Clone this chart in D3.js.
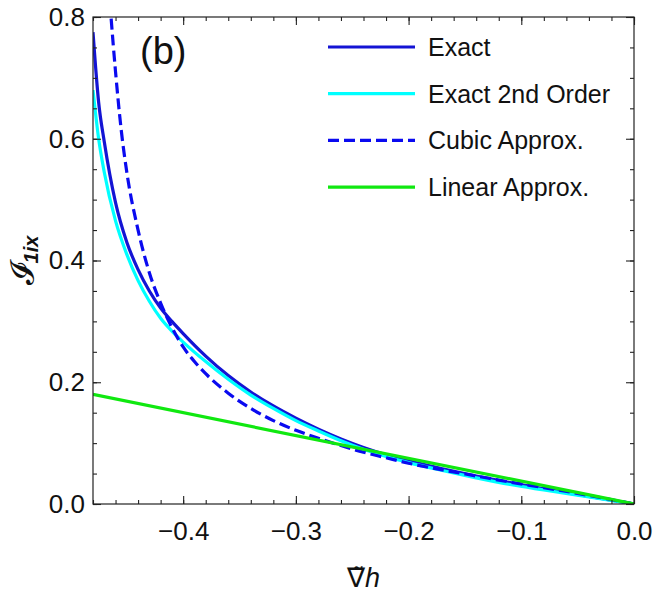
<!DOCTYPE html>
<html>
<head>
<meta charset="utf-8">
<script src="https://cdn.jsdelivr.net/npm/d3@7"></script>
<style>
  body { margin: 0; background: #fff; }
  svg text { font-family: "Liberation Sans", Arial, sans-serif; fill: #111; }
</style>
</head>
<body>
<div id="chart"></div>
<script>
// values
const exactX = [-0.48, -0.475, -0.47, -0.46, -0.45, -0.44, -0.43, -0.42, -0.41, -0.40, -0.38, -0.36, -0.34, -0.32, -0.30, -0.28, -0.26, -0.24, -0.22, -0.20, -0.17, -0.14, -0.11, -0.08, -0.04, 0];
const exactY = [0.775, 0.66, 0.595, 0.495, 0.43, 0.385, 0.35, 0.322, 0.300, 0.280, 0.243, 0.211, 0.184, 0.161, 0.141, 0.123, 0.107, 0.093, 0.081, 0.071, 0.058, 0.046, 0.035, 0.025, 0.0125, 0];

const secondX = [-0.48, -0.475, -0.47, -0.46, -0.45, -0.44, -0.43, -0.42, -0.41, -0.40, -0.38, -0.36, -0.34, -0.32, -0.30, -0.28, -0.26, -0.24, -0.22, -0.20, -0.17, -0.14, -0.11, -0.08, -0.04, 0];
const secondY = [0.68, 0.60, 0.545, 0.465, 0.41, 0.367, 0.333, 0.305, 0.284, 0.266, 0.234, 0.205, 0.179, 0.157, 0.137, 0.120, 0.104, 0.090, 0.078, 0.068, 0.055, 0.043, 0.032, 0.023, 0.0115, 0];

const cubicX = [-0.466, -0.464, -0.46, -0.455, -0.45, -0.44, -0.43, -0.42, -0.41, -0.40, -0.39, -0.38, -0.36, -0.34, -0.32, -0.30, -0.28, -0.26, -0.24, -0.22, -0.20, -0.17, -0.14, -0.11, -0.08, -0.04, 0];
const cubicY = [0.85, 0.80, 0.71, 0.615, 0.545, 0.45, 0.38, 0.33, 0.29, 0.258, 0.234, 0.214, 0.182, 0.157, 0.137, 0.121, 0.108, 0.096, 0.085, 0.076, 0.067, 0.056, 0.046, 0.036, 0.027, 0.014, 0];

const linearX = [-0.48, 0];
const linearY = [0.18, 0];

const seriesNames = ["Exact", "Exact 2nd Order", "Cubic Approx.", "Linear Approx."];
const seriesColors = ["#1414d4", "#00ffff", "#0a0af0", "#10e810"];
const seriesDash = [null, null, "11,5", null];

const xTicks = [-0.4, -0.3, -0.2, -0.1, 0.0];
const xTickLabels = ["\u22120.4", "\u22120.3", "\u22120.2", "\u22120.1", "0.0"];
const yTicks = [0.0, 0.2, 0.4, 0.6, 0.8];
const yTickLabels = ["0.0", "0.2", "0.4", "0.6", "0.8"];

const width = 655, height = 594;
const margin = {top: 17, right: 21, bottom: 90, left: 93};
const iw = width - margin.left - margin.right;
const ih = height - margin.top - margin.bottom;

const svg = d3.select("#chart").append("svg")
    .attr("width", width)
    .attr("height", height);

const x = d3.scaleLinear().domain([-0.48, 0]).range([0, iw]);
const y = d3.scaleLinear().domain([0, 0.8]).range([ih, 0]);

const g = svg.append("g").attr("transform", `translate(${margin.left},${margin.top})`);

g.append("clipPath").attr("id", "clip")
  .append("rect").attr("width", iw).attr("height", ih);

// curves
const series = [
    d3.zip(exactX, exactY),
    d3.zip(secondX, secondY),
    d3.zip(cubicX, cubicY),
    d3.zip(linearX, linearY)
];
const line = d3.line()
    .x(d => x(d[0]))
    .y(d => y(d[1]))
    .curve(d3.curveMonotoneX);

const plot = g.append("g").attr("clip-path", "url(#clip)");
series.forEach((s, i) => {
    plot.append("path")
        .datum(s)
        .attr("d", line)
        .attr("fill", "none")
        .attr("stroke", seriesColors[i])
        .attr("stroke-width", 3.2)
        .attr("stroke-dasharray", seriesDash[i]);
});

// axes: ticks inward on all four sides
const xMinor = d3.range(-0.48, 0.0001, 0.02);
const yMinor = d3.range(0, 0.8001, 0.05);

function styleAxis(sel) {
    sel.select(".domain").remove();
    sel.selectAll("line").attr("stroke", "#222").attr("stroke-width", 1.1);
    sel.selectAll("text").attr("font-size", "26px").attr("fill", "#111")
        .attr("font-family", "'Liberation Sans', Arial, sans-serif");
}

g.append("g").attr("transform", `translate(0,${ih})`)
    .call(d3.axisBottom(x).tickValues(xMinor).tickFormat("").tickSizeInner(-4).tickSizeOuter(0))
    .call(styleAxis);
g.append("g").attr("transform", `translate(0,${ih})`)
    .call(d3.axisBottom(x).tickValues(xTicks).tickFormat((d, i) => xTickLabels[i]).tickSizeInner(-8).tickSizeOuter(0).tickPadding(18))
    .call(styleAxis);
g.append("g")
    .call(d3.axisTop(x).tickValues(xMinor).tickFormat("").tickSizeInner(-4).tickSizeOuter(0))
    .call(styleAxis);
g.append("g")
    .call(d3.axisTop(x).tickValues(xTicks).tickFormat("").tickSizeInner(-8).tickSizeOuter(0))
    .call(styleAxis);

g.append("g")
    .call(d3.axisLeft(y).tickValues(yMinor).tickFormat("").tickSizeInner(-4).tickSizeOuter(0))
    .call(styleAxis);
g.append("g")
    .call(d3.axisLeft(y).tickValues(yTicks).tickFormat((d, i) => yTickLabels[i]).tickSizeInner(-8).tickSizeOuter(0).tickPadding(8))
    .call(styleAxis);
g.append("g").attr("transform", `translate(${iw},0)`)
    .call(d3.axisRight(y).tickValues(yMinor).tickFormat("").tickSizeInner(-4).tickSizeOuter(0))
    .call(styleAxis);
g.append("g").attr("transform", `translate(${iw},0)`)
    .call(d3.axisRight(y).tickValues(yTicks).tickFormat("").tickSizeInner(-8).tickSizeOuter(0))
    .call(styleAxis);

// frame
g.append("rect")
    .attr("width", iw).attr("height", ih)
    .attr("fill", "none")
    .attr("stroke", "#222")
    .attr("stroke-width", 1.2);

// panel label
g.append("text")
    .attr("x", 47).attr("y", 47)
    .attr("font-size", "38px")
    .text("(b)");

// legend
const legend = g.append("g").attr("transform", "translate(235,30)");
seriesNames.forEach((name, i) => {
    const row = legend.append("g").attr("transform", `translate(0,${i * 46.7})`);
    row.append("line")
        .attr("x1", 0).attr("x2", 87)
        .attr("stroke", seriesColors[i])
        .attr("stroke-width", 3.2)
        .attr("stroke-dasharray", seriesDash[i]);
    row.append("text")
        .attr("x", 100).attr("dy", "0.36em")
        .attr("font-size", "25px")
        .text(name);
});

// axis titles
const xt = svg.append("text")
    .attr("x", margin.left + iw / 2)
    .attr("y", 587)
    .attr("text-anchor", "middle")
    .attr("font-size", "27px");
xt.append("tspan").attr("font-family", "'DejaVu Sans', sans-serif").text("\u2207\u0303");
xt.append("tspan").attr("font-style", "italic").text("h");

const yt = svg.append("text")
    .attr("transform", `translate(33,${margin.top + ih / 2}) rotate(-90)`)
    .attr("text-anchor", "middle");
yt.append("tspan")
    .attr("font-family", "'DejaVu Serif', 'DejaVu Sans', 'Noto Sans', serif")
    .attr("font-size", "32px")
    .text("\u{1D4D8}");
yt.append("tspan")
    .attr("font-size", "20px")
    .attr("font-style", "italic")
    .attr("font-weight", "bold")
    .attr("dy", "5")
    .text("1ix");
</script>
</body>
</html>
